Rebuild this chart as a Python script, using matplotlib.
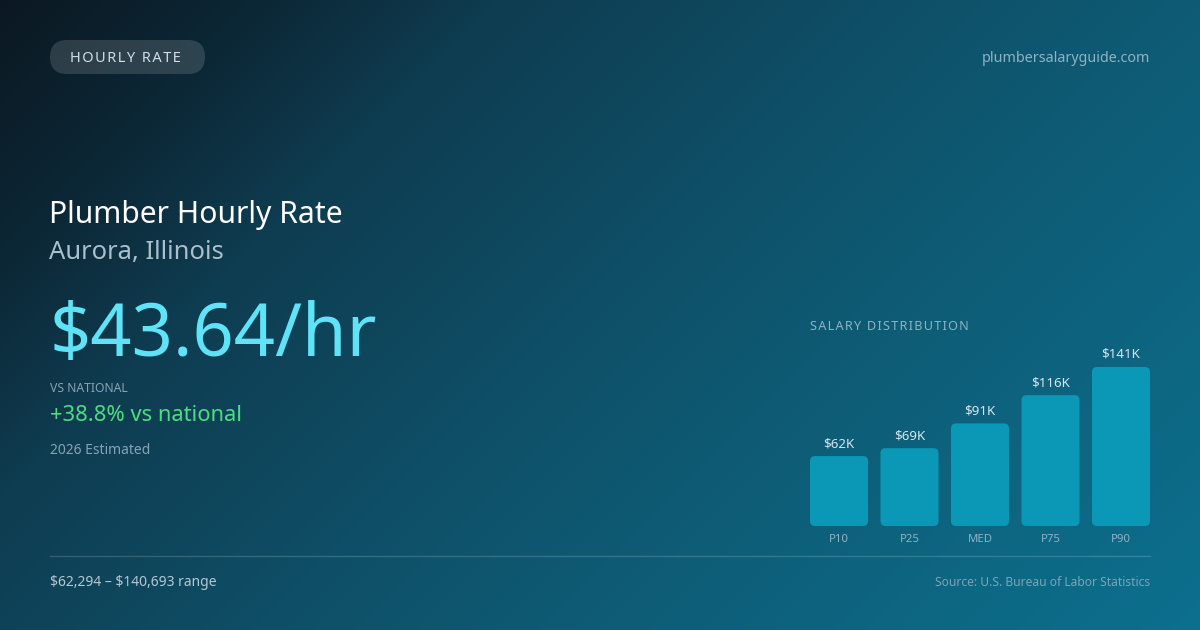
import numpy as np
import matplotlib
matplotlib.use("Agg")
import matplotlib.pyplot as plt
from matplotlib.patches import FancyBboxPatch

plt.rcParams['font.family'] = ['Noto Sans', 'DejaVu Sans']

# ---- data ----
categories = ["P10", "P25", "MED", "P75", "P90"]
values_k = [62, 69, 91, 116, 141]
value_labels = ["$62K", "$69K", "$91K", "$116K", "$141K"]
badge_text = "HOURLY RATE"
site_text = "plumbersalaryguide.com"
title_text = "Plumber Hourly Rate"
location_text = "Aurora, Illinois"
rate_text = "$43.64/hr"
vs_label = "VS NATIONAL"
vs_text = "+38.8% vs national"
year_text = "2026 Estimated"
range_text = "$62,294 \u2013 $140,693 range"
source_text = "Source: U.S. Bureau of Labor Statistics"
dist_title = "SALARY DISTRIBUTION"

W, H = 1200, 630
fig = plt.figure(figsize=(W / 100, H / 100), dpi=100)

# ---- background gradient ----
bg = fig.add_axes([0, 0, 1, 1])
bg.set_axis_off()
yy, xx = np.mgrid[0:H, 0:W]
t = (xx + yy) / (W + H)
stops_t = [0.0, 0.15, 0.27, 0.5, 0.7, 1.0]
stops_c = np.array([[11, 24, 34], [12, 40, 54], [15, 60, 80], [14, 80, 104],
                    [14, 94, 120], [12, 112, 142]]) / 255.0
img = np.zeros((H, W, 3))
for c in range(3):
    img[..., c] = np.interp(t, stops_t, stops_c[:, c])
bg.imshow(img, extent=[0, W, H, 0], aspect='auto', interpolation='bilinear')
bg.set_xlim(0, W)
bg.set_ylim(H, 0)


def txt(x, y, s, **kw):
    return bg.text(x, y, s, parse_math=False, **kw)


# badge
badge = FancyBboxPatch((50, 40), 155, 34, boxstyle="round,pad=0,rounding_size=17",
                       facecolor=(1, 1, 1, 0.14), edgecolor='none')
bg.add_patch(badge)
spaced = "\u200a".join(list(badge_text))
txt(70, 58, spaced, color="#d2dee6", fontsize=10.5, va='center', ha='left')

txt(1150, 59, site_text, color="#8fb3c4", fontsize=10.3, va='center', ha='right')

txt(49, 215, title_text, color="white", fontsize=21.7, va='center', ha='left')
txt(49, 253, location_text, color="#a9bfcc", fontsize=18.4, va='center', ha='left')
txt(50, 337, rate_text, color="#5fe3f7", fontsize=52, va='center', ha='left')
txt(50, 389, vs_label, color="#86a3b3", fontsize=8.8, va='center', ha='left')
txt(50, 415.5, vs_text, color="#4ade80", fontsize=15.8, va='center', ha='left')
txt(50, 451, year_text, color="#86a3b3", fontsize=10, va='center', ha='left')

bg.plot([50, 1150], [556, 556], color=(1, 1, 1, 0.16), lw=1)
txt(50, 583, range_text, color="#b4c7d2", fontsize=10, va='center', ha='left')
txt(1150, 583, source_text, color="#7fa2b4", fontsize=8.7, va='center', ha='right')

spaced2 = "\u200a".join(list(dist_title))
txt(810, 327, spaced2, color="#8fb3c4", fontsize=9.1, va='center', ha='left')

# ---- bar chart ----
ax_left, ax_right = 810, 1150
ax_bottom, ax_top = 526, 340
ax = fig.add_axes([ax_left / W, 1 - ax_bottom / H, (ax_right - ax_left) / W, (ax_bottom - ax_top) / H])
ax.set_axis_off()
ax.patch.set_alpha(0)
bw = 0.823
ax.set_xlim(-bw / 2, len(categories) - 1 + bw / 2)
px_per_k = 159 / 141
ax.set_ylim(0, (ax_bottom - ax_top) / px_per_k)

x = np.arange(len(categories))
bars = ax.bar(x, values_k, width=bw, color="#0e9ab8")
px_per_unit_x = (ax_right - ax_left) / (len(categories) - 1 + bw)
r_x = 5 / px_per_unit_x
r_y = 5 / px_per_k
for b in bars:
    b.set_visible(False)
    fb = FancyBboxPatch((b.get_x(), b.get_y()), b.get_width(), b.get_height(),
                        boxstyle=f"round,pad=0,rounding_size={r_x}",
                        mutation_aspect=r_y / r_x,
                        facecolor="#0b9bba", edgecolor='none', alpha=0.95)
    ax.add_patch(fb)

for i, (v, lab) in enumerate(zip(values_k, value_labels)):
    ax.annotate(lab, (i, v), xytext=(0, 9), textcoords='offset points',
                ha='center', va='center', color="#d6e6ee", fontsize=9.6,
                annotation_clip=False)
    ax.annotate(categories[i], (i, 0), xytext=(0, -10), textcoords='offset points',
                ha='center', va='center', color="#8fb3c4", fontsize=8.2,
                annotation_clip=False)

fig.savefig("out.png", dpi=100)
